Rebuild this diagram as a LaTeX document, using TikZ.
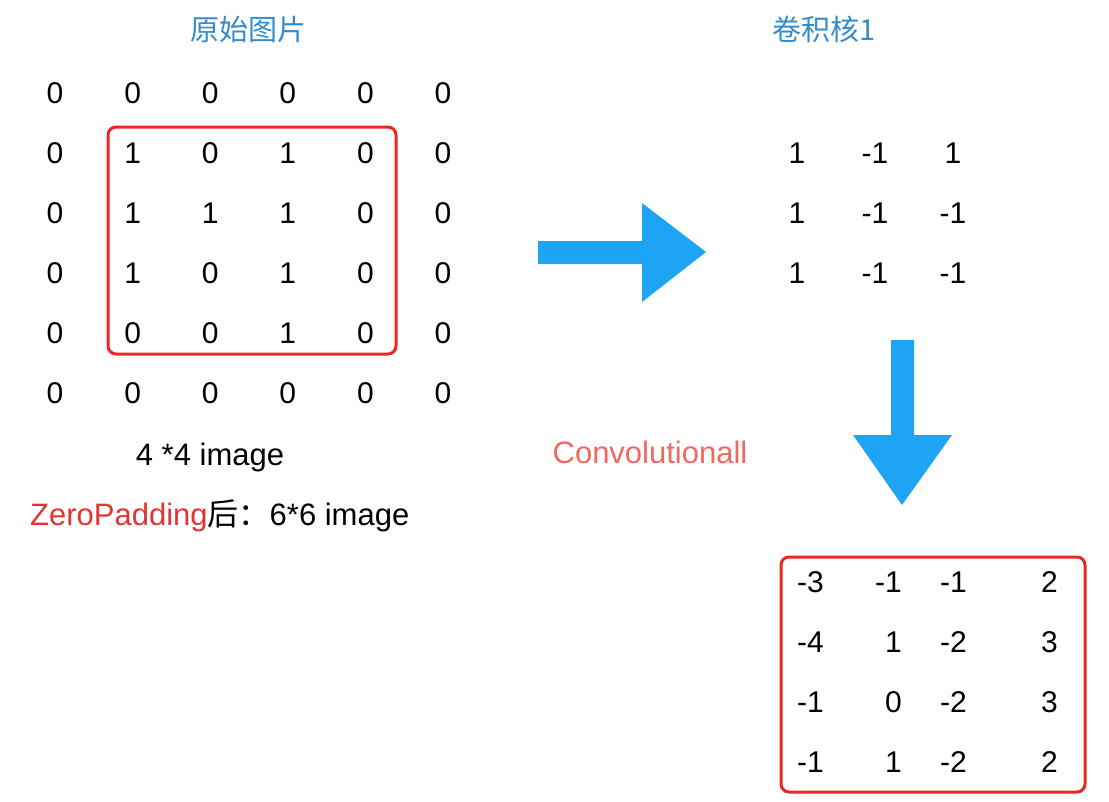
\documentclass[tikz,border=0pt]{standalone}
\usepackage{fontspec}
\setmainfont{Liberation Sans}
\newfontfamily\cjk{Noto Sans CJK SC}
\definecolor{ttlblue}{RGB}{52,140,204}
\definecolor{arrblue}{RGB}{30,164,245}
\definecolor{framered}{RGB}{232,40,34}
\definecolor{zpred}{RGB}{226,52,52}
\definecolor{convred}{RGB}{240,104,94}
\usetikzlibrary{positioning}

\begin{document}
\begin{tikzpicture}[x=1pt, y=-1pt,
    num/.style={inner sep=0pt, font=\fontsize{30}{32}\selectfont},
    ttl/.style={inner sep=0pt, text=ttlblue, font=\cjk\fontsize{29}{32}\selectfont},
    txt/.style={inner sep=0pt, font=\fontsize{31}{34}\selectfont},
    frame/.style={draw=framered, line width=3pt, rounded corners=8pt},
    bigarr/.style={fill=arrblue}
  ]
  \useasboundingbox (0,0) rectangle (1109,801);

  % titles
  \node[ttl] (ttl-img) at (248,29) {原始图片};
  \node[ttl] (ttl-ker) at (824,29) {卷积核1};

  % padded input image
  \foreach \r/\vals in {1/{0,0,0,0,0,0}, 2/{0,1,0,1,0,0}, 3/{0,1,1,1,0,0},
                        4/{0,1,0,1,0,0}, 5/{0,0,0,1,0,0}, 6/{0,0,0,0,0,0}}
    \foreach \v [count=\c] in \vals
      \node[num] (p-\r-\c) at ({55+77.6*(\c-1)}, {93+60*(\r-1)}) {\v};
  \draw[frame] (108,127) rectangle (396,354);

  \node[txt, anchor=base] (lbl-4) at (210,465) {4 *4 image};
  \node[txt, anchor=base west] (lbl-6) at (30,525)
    {\textcolor{zpred}{ZeroPadding}{\cjk 后：}6*6 image};

  % kernel
  \foreach \r/\vals in {1/{1,-1,1}, 2/{1,-1,-1}, 3/{1,-1,-1}}
    \foreach \v [count=\c] in \vals
      \node[num] (k-\r-\c) at ({797+78*(\c-1)}, {153+60*(\r-1)}) {\v};

  % block arrows
  \fill[bigarr] (538,241) -- (642,241) -- (642,203) -- (706,252)
    -- (642,302) -- (642,264) -- (538,264) -- cycle;
  \fill[bigarr] (891,340) -- (914,340) -- (914,435) -- (952,435)
    -- (902,505) -- (853,435) -- (891,435) -- cycle;

  \node[txt, anchor=base, text=convred] (conv) at (650,463) {Convolutionall};

  % result
  \foreach \r/\a/\b/\cc/\d in {1/-3/-1/-1/2, 2/-4/1/-2/3, 3/-1/0/-2/3, 4/-1/1/-2/2} {
    \node[num, anchor=west] (o-\r-1) at (797,{582+60*(\r-1)}) {\a};
    \node[num, anchor=east] (o-\r-2) at (902,{582+60*(\r-1)}) {\b};
    \node[num, anchor=west] (o-\r-3) at (940,{582+60*(\r-1)}) {\cc};
    \node[num, anchor=east] (o-\r-4) at (1058,{582+60*(\r-1)}) {\d};
  }
  \draw[frame] (781,557) rectangle (1085,792);
\end{tikzpicture}
\end{document}
